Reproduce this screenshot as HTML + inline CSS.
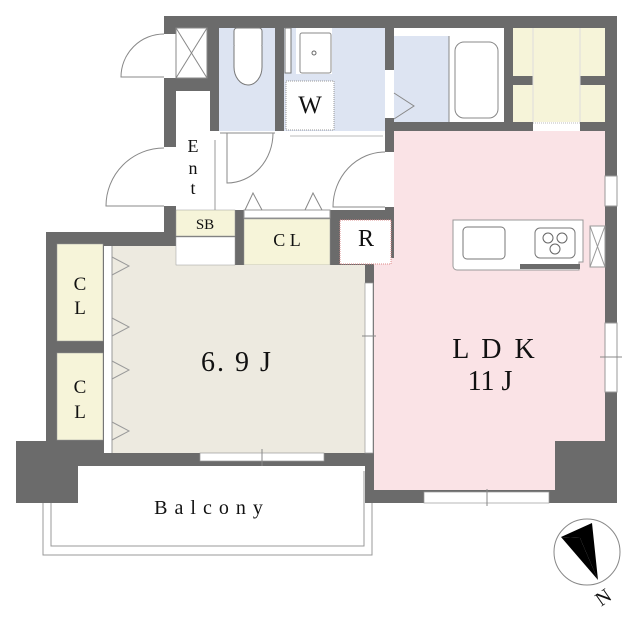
<!DOCTYPE html>
<html><head><meta charset="utf-8"><style>
html,body{margin:0;padding:0;background:#fff;width:640px;height:624px;overflow:hidden}
svg text{font-family:"Liberation Serif",serif;fill:#111}
</style></head><body>
<svg width="640" height="624" viewBox="0 0 640 624" xmlns="http://www.w3.org/2000/svg">
<g fill="#6b6b6b">
<rect x="164" y="16" width="453" height="229"/>
<rect x="46" y="232" width="571" height="271"/>
<rect x="16" y="441" width="62" height="62"/>
</g>
<rect x="43" y="466" width="329" height="89" fill="#fff" stroke="#999" stroke-width="1"/>
<rect x="51" y="466" width="313" height="80" fill="#fff" stroke="#999" stroke-width="1"/>
<rect x="78" y="463" width="287" height="8" fill="#fff"/>
<rect x="16" y="441" width="62" height="62" fill="#6b6b6b"/>
<rect x="365" y="490" width="252" height="13" fill="#6b6b6b"/>
<rect x="365" y="453" width="8" height="50" fill="#6b6b6b"/>
<rect x="78" y="453" width="287" height="13" fill="#6b6b6b"/>
<rect x="164" y="34" width="12" height="44" fill="#fff"/>
<rect x="164" y="147" width="12" height="59" fill="#fff"/>
<g fill="none" stroke="#888" stroke-width="1">
<path d="M164 34 A43 43 0 0 0 121 77 L164 77"/>
<path d="M164 148 A58 58 0 0 0 106 206 L164 206"/>
</g>
<rect x="176" y="28" width="31" height="50" fill="#fff" stroke="#888"/>
<path d="M176 28 L207 78 M207 28 L176 78" stroke="#888"/>
<rect x="176" y="91" width="34" height="119" fill="#fff"/>
<rect x="210" y="131" width="175" height="79" fill="#fff"/>
<line x1="215" y1="140" x2="215" y2="210" stroke="#999"/>
<rect x="219" y="28" width="56" height="103" fill="#dde4f2"/>
<rect x="234" y="28" width="28" height="20" rx="3" fill="#fff" stroke="#777"/>
<path d="M234 46 L234 67 A14 18 0 0 0 262 67 L262 46" fill="#fff" stroke="#777"/>
<rect x="284" y="28" width="101" height="103" fill="#dde4f2"/>
<rect x="285" y="28" width="6" height="45" fill="#fff" stroke="#777"/>
<rect x="296" y="28" width="36" height="46" fill="#fff"/>
<rect x="300" y="33" width="31" height="40" rx="2" fill="#fff" stroke="#888"/>
<circle cx="314" cy="53" r="2" fill="none" stroke="#666"/>
<rect x="286" y="81" width="48" height="49" fill="#fff" stroke="#999" stroke-dasharray="1 1"/>
<text x="310" y="113" font-size="25" text-anchor="middle">W</text>
<rect x="285" y="132" width="100" height="6" fill="#fff"/>
<line x1="290" y1="136" x2="383" y2="136" stroke="#bbb"/>
<rect x="394" y="28" width="110" height="94" fill="#fff"/>
<rect x="394" y="36" width="55" height="86" fill="#dde4f2"/>
<rect x="455" y="42" width="43" height="76" rx="9" fill="#fff" stroke="#888"/>
<line x1="449" y1="36" x2="449" y2="122" stroke="#888"/>
<rect x="385" y="70" width="9" height="48" fill="#fff"/>
<path d="M394 93 L414 106 L394 119" fill="none" stroke="#888"/>
<rect x="513" y="28" width="92" height="94" fill="#f6f4d9"/>
<rect x="513" y="76" width="20" height="9" fill="#6b6b6b"/>
<rect x="580" y="76" width="25" height="9" fill="#6b6b6b"/>
<rect x="533" y="122" width="47" height="9" fill="#fff"/>
<line x1="533" y1="123" x2="580" y2="123" stroke="#bbb" stroke-dasharray="1 1"/>
<line x1="533" y1="28" x2="533" y2="122" stroke="#ddd"/>
<line x1="580" y1="28" x2="580" y2="122" stroke="#ddd"/>
<rect x="394" y="131" width="211" height="135" fill="#fae3e6"/>
<rect x="374" y="258" width="231" height="232" fill="#fae3e6"/>
<rect x="555" y="441" width="62" height="62" fill="#6b6b6b"/>
<rect x="605" y="176" width="12" height="30" fill="#fff" stroke="#999"/>
<rect x="605" y="323" width="12" height="69" fill="#fff" stroke="#999"/>
<line x1="600" y1="357" x2="622" y2="357" stroke="#888"/>
<rect x="385" y="152" width="9" height="55" fill="#fff"/>
<path d="M385 152 A52 55 0 0 0 333 207 L385 207" fill="none" stroke="#888"/>
<path d="M227 133 L227 183 A46 50 0 0 0 273 133" fill="none" stroke="#888"/>
<line x1="220" y1="133" x2="275" y2="133" stroke="#888"/>
<rect x="210" y="210" width="184" height="8" fill="#6b6b6b"/>
<rect x="244" y="210" width="86" height="8" fill="#fff" stroke="#999"/>
<path d="M245 210 L253 193 L262 210 M305 210 L313 193 L322 210" fill="none" stroke="#888"/>
<rect x="176" y="210" width="59" height="26" fill="#f6f4d9" stroke="#999" stroke-width=".5"/>
<text x="205" y="229" font-size="15" text-anchor="middle">SB</text>
<rect x="244" y="219" width="86" height="46" fill="#f6f4d9" stroke="#999" stroke-width=".5"/>
<text x="287" y="246" font-size="18" text-anchor="middle">C L</text>
<rect x="340" y="220" width="51" height="44" fill="#fff" stroke="#d88" stroke-dasharray="1 1"/>
<text x="366" y="246" font-size="24" text-anchor="middle">R</text>
<path d="M453 220 L583 220 L583 262 L579 262 L579 270 L457 270 A4 4 0 0 1 453 266 Z" fill="#fff" stroke="#999"/>
<rect x="463" y="227" width="42" height="32" rx="4" fill="#fff" stroke="#777"/>
<rect x="535" y="228" width="40" height="30" rx="5" fill="#fff" stroke="#777"/>
<circle cx="548" cy="238" r="5" fill="none" stroke="#666"/>
<circle cx="562" cy="238" r="5" fill="none" stroke="#666"/>
<circle cx="555" cy="249" r="5" fill="none" stroke="#666"/>
<rect x="520" y="264" width="60" height="5" fill="#6b6b6b"/>
<rect x="590" y="226" width="15" height="41" fill="#fff" stroke="#999"/>
<path d="M590 226 L605 267 M605 226 L590 267" stroke="#999"/>
<rect x="112" y="246" width="64" height="20" fill="#edeae0"/>
<rect x="112" y="265" width="253" height="188" fill="#edeae0"/>
<rect x="176" y="237" width="59" height="28" fill="#fff" stroke="#999" stroke-width=".5"/>
<rect x="104" y="246" width="8" height="207" fill="#fff"/>
<line x1="112" y1="246" x2="112" y2="453" stroke="#999"/>
<path d="M112 257 L129 266 L112 275 M112 318 L129 327 L112 336 M112 361 L129 370 L112 379 M112 422 L129 431 L112 440" fill="none" stroke="#999"/>
<rect x="365" y="283" width="8" height="170" fill="#fff" stroke="#999" stroke-width=".7"/>
<line x1="362" y1="336" x2="376" y2="336" stroke="#888"/>
<rect x="200" y="453" width="124" height="8" fill="#fff" stroke="#999" stroke-width=".7"/>
<line x1="262" y1="449" x2="262" y2="466" stroke="#888"/>
<rect x="424" y="492" width="125" height="11" fill="#fff" stroke="#999" stroke-width=".7"/>
<line x1="487" y1="489" x2="487" y2="506" stroke="#888"/>
<rect x="57" y="244" width="46" height="97" fill="#f6f4d9" stroke="#999" stroke-width=".5"/>
<rect x="57" y="353" width="46" height="87" fill="#f6f4d9" stroke="#999" stroke-width=".5"/>
<text x="80" y="290" font-size="19" text-anchor="middle">C</text>
<text x="80" y="314" font-size="19" text-anchor="middle">L</text>
<text x="80" y="393" font-size="19" text-anchor="middle">C</text>
<text x="80" y="418" font-size="19" text-anchor="middle">L</text>
<text x="193" y="152" font-size="18" text-anchor="middle">E</text>
<text x="193" y="174" font-size="18" text-anchor="middle">n</text>
<text x="193" y="194" font-size="18" text-anchor="middle">t</text>
<text x="237" y="371" font-size="28" text-anchor="middle" letter-spacing="2">6. 9 J</text>
<text x="495" y="358" font-size="28" text-anchor="middle" letter-spacing="3">L D K</text>
<text x="490" y="390" font-size="28" text-anchor="middle">11 J</text>
<text x="212" y="514" font-size="20" text-anchor="middle" letter-spacing="7">Balcony</text>
<ellipse cx="587" cy="552" rx="33" ry="33" fill="none" stroke="#888"/>
<path d="M561 537 L592 523 L598 580 L580 538 Z" fill="#000"/>
<path d="M561 537 L580 538 L598 580 Z" fill="#000"/>
<text x="603" y="604" font-size="20" text-anchor="middle" transform="rotate(-35 603 597)">N</text>
</svg>
</body></html>
